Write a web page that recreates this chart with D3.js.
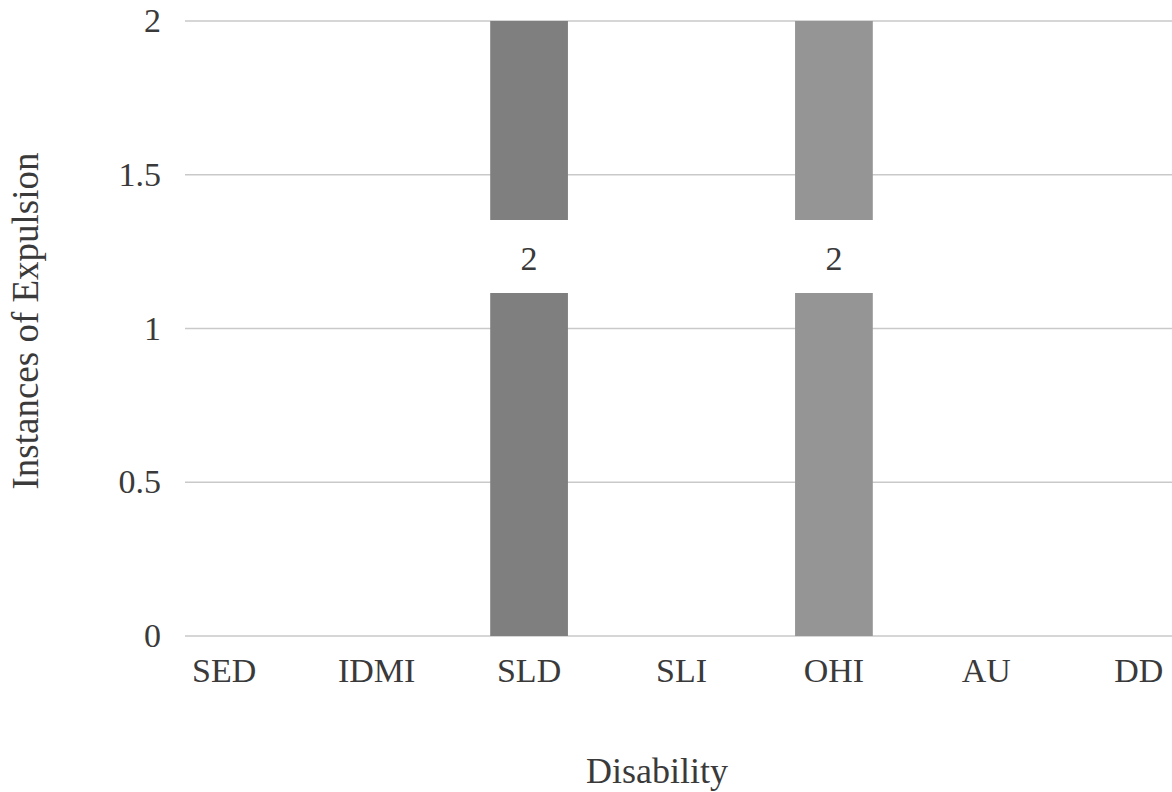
<!DOCTYPE html>
<html><head><meta charset="utf-8">
<script src="https://cdn.jsdelivr.net/npm/d3@7"></script>
<style>body{margin:0;background:#fff}svg{display:block}text{font-family:"Liberation Serif","DejaVu Serif",serif;fill:#3a3a3a}</style>
</head><body>
<svg id="c" width="1172" height="792"></svg>
<script>
const categories = ["SED","IDMI","SLD","SLI","OHI","AU","DD"];
const values = [0,0,2,0,2,0,0];
const barColors = ["#7f7f7f","#7f7f7f","#7f7f7f","#959595","#959595","#959595","#959595"];
const yTicks = [0,0.5,1,1.5,2];
const yTickLabels = ["0","0.5","1","1.5","2"];
const xTitle = "Disability";
const yTitle = "Instances of Expulsion";

const svg = d3.select("#c");
const x = d3.scaleBand().domain(categories).range([148, 1215]).paddingInner(0.49).paddingOuter(0.245);
const y = d3.scaleLinear().domain([0,2]).range([636, 21]);

// gridlines
svg.append("g").selectAll("line").data(yTicks).join("line")
  .attr("x1",185).attr("x2",1172)
  .attr("y1",d=>y(d)).attr("y2",d=>y(d))
  .attr("stroke","#c9c9c9").attr("stroke-width",1.5);

// y tick labels
svg.append("g").selectAll("text").data(yTicks).join("text")
  .attr("x",161).attr("y",d=>y(d)).attr("dy","0.33em")
  .attr("text-anchor","end").attr("font-size",34).text((d,i)=>yTickLabels[i]);

// bars
svg.append("g").selectAll("rect").data(categories).join("rect")
  .attr("x",d=>x(d)).attr("width",x.bandwidth())
  .attr("y",(d,i)=>y(values[i])).attr("height",(d,i)=>y(0)-y(values[i]))
  .attr("fill",(d,i)=>barColors[i]);

// data labels with white backing
const labeled = categories.map((c,i)=>({c,v:values[i]})).filter(d=>d.v>0);
const lg = svg.append("g").selectAll("g").data(labeled).join("g");
lg.append("rect")
  .attr("x",d=>x(d.c)-2).attr("width",x.bandwidth()+4)
  .attr("y",220).attr("height",73).attr("fill","#fff");
lg.append("text")
  .attr("x",d=>x(d.c)+x.bandwidth()/2).attr("y",259).attr("dy","0.33em")
  .attr("text-anchor","middle").attr("font-size",34).text(d=>d.v);

// x tick labels
svg.append("g").selectAll("text").data(categories).join("text")
  .attr("x",d=>x(d)+x.bandwidth()/2).attr("y",671).attr("dy","0.33em")
  .attr("text-anchor","middle").attr("font-size",34).text(d=>d);

// axis titles
svg.append("text").attr("x",657).attr("y",771).attr("dy","0.33em")
  .attr("text-anchor","middle").attr("font-size",36).text(xTitle);
svg.append("text").attr("transform","translate(26,321) rotate(-90)").attr("dy","0.33em")
  .attr("text-anchor","middle").attr("font-size",37).text(yTitle);
</script>
</body></html>
